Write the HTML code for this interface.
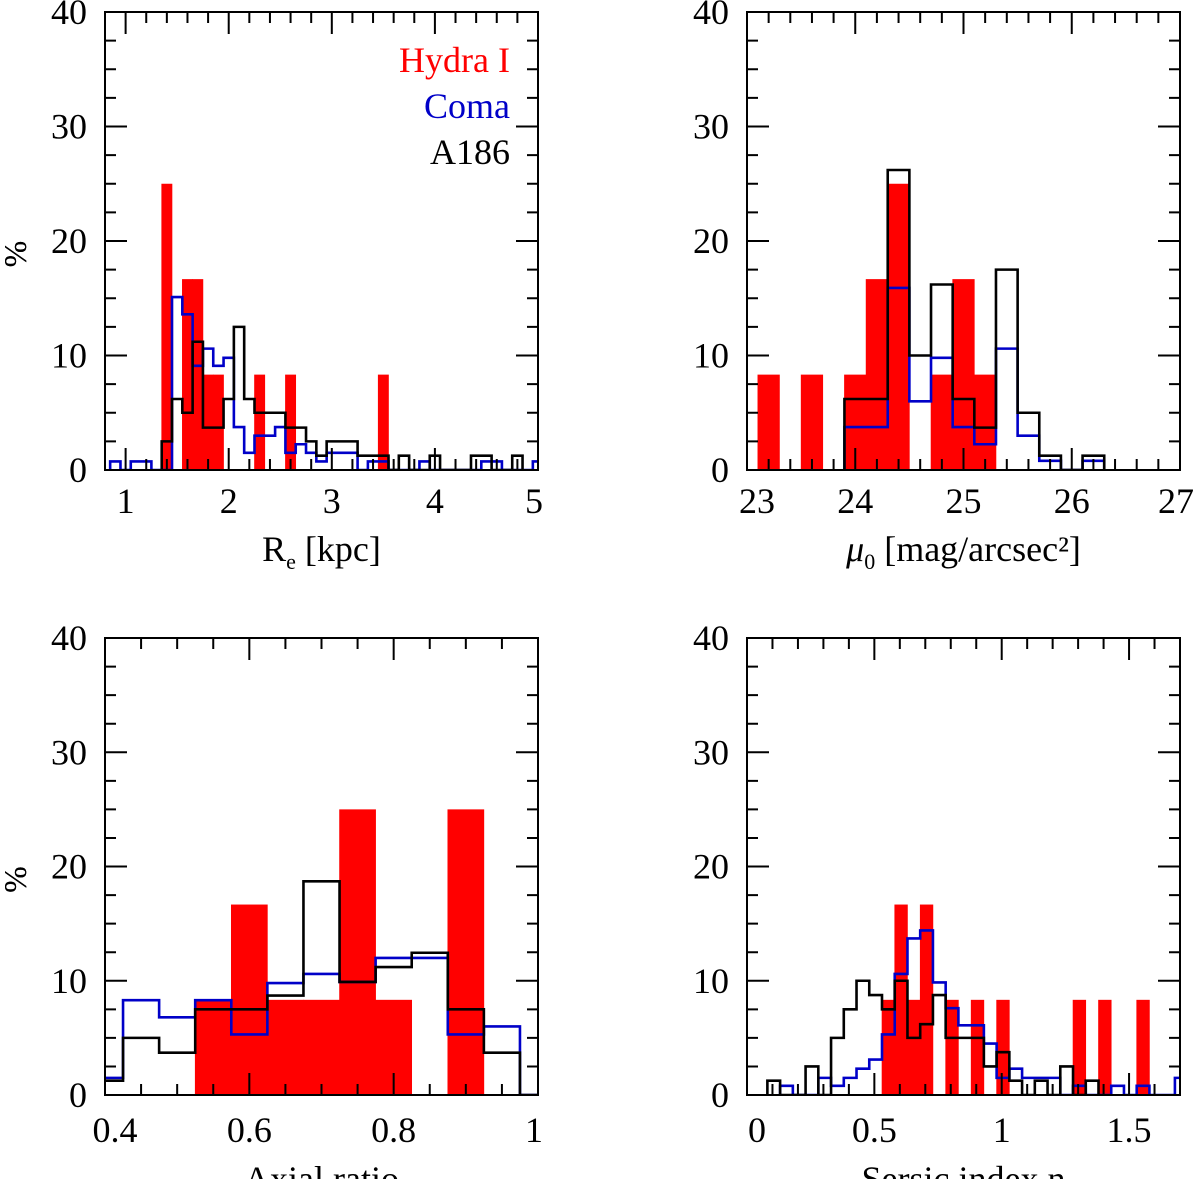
<!DOCTYPE html>
<html><head><meta charset="utf-8">
<style>
html,body{margin:0;padding:0;background:#fff;}
svg{display:block;}
text{font-family:"Liberation Serif","DejaVu Serif",serif;fill:#000;}
</style></head>
<body>
<svg id="fig" width="1200" height="1179" viewBox="0 0 1200 1179" xmlns="http://www.w3.org/2000/svg"></svg>
<script>
// ---- Panel 1: R_e [kpc] ----
const reRedStart = 1.35, reRedW = 0.1;
const reRed = [25,0,16.67,16.67,8.33,8.33,0,0,0,8.33,0,0,8.33,0,0,0,0,0,0,0,0,8.33];
const reBlueStart = 0.85, reBlueW = 0.1;
const reBlue = [0.75,0,0.75,0.75,0,0,15.1,13.6,9.1,10.6,9.1,9.8,3.75,1.5,3.0,3.0,3.75,1.5,2.25,1.5,0.75,1.5,1.5,1.5,0,0.75,0.75,0,0,0,0.75,0,0,0,0,0,0.75,0.75,0,0,0,0.75];
const reBlackStart = 1.35, reBlackW = 0.1;
const reBlack = [2.5,6.2,5.0,11.2,3.7,3.7,6.2,12.5,6.2,5,5,5,3.7,3.7,2.5,1.25,2.5,2.5,2.5,1.25,1.25,1.25,0,1.25,0,0,1.25,0,0,0,1.25,1.25,0,0,1.25];
const reXTicks = ["1","2","3","4","5"];

// ---- Panel 2: mu0 ----
const muRedStart = 23.1, muRedW = 0.2;
const muRed = [8.33,0,8.33,0,8.33,16.67,25,0,8.33,16.67,8.33];
const muBlackStart = 23.9, muBlackW = 0.2;
const muBlack = [6.2,6.2,26.2,10.0,16.2,6.2,3.7,17.5,5.0,1.25,0,1.25];
const muBlue = [3.75,3.75,15.9,6.0,9.8,3.75,2.25,10.6,3.0,0.8,0,0.8];
const muXTicks = ["23","24","25","26","27"];

// ---- Panel 3: Axial ratio ----
const arRedStart = 0.525, arRedW = 0.05;
const arRed = [8.33,16.67,8.33,8.33,25,8.33,0,25];
const arLineStart = 0.375, arLineW = 0.05;
const arBlack = [1.25,5,3.7,7.5,7.5,8.7,18.7,9.9,11.2,12.45,7.5,3.7,0];
const arBlue = [1.5,8.3,6.8,8.3,5.3,9.8,10.6,9.9,12.0,12.0,5.3,6.0,0];
const arXTicks = ["0.4","0.6","0.8","1"];

// ---- Panel 4: Sersic index ----
const snRedStart = 0.53, snRedW = 0.05;
const snRed = [8.33,16.67,8.33,16.67,0,8.33,0,8.33,0,8.33,0,0,0,0,0,8.33,0,8.33,0,0,8.33];
const snBlackStart = 0.08, snBlackW = 0.05;
const snBlack = [1.25,0,0,2.5,0,5,7.5,10,8.75,7.5,10,5,6.2,8.75,5,5,5,2.5,3.75,1.25,0,1.25,0,2.5,0,1.25];
const snBlueStart = 0.13, snBlueW = 0.05;
const snBlue = [0.8,0,0,1.5,0.8,1.5,2.3,3.1,5.3,10.6,13.7,14.4,9.85,7.6,6.1,6.1,4.5,1.5,2.3,1.5,1.5,1.5,0,0.8,0,0,0.8,0,0.8,0,0,1.5];
const snXTicks = ["0","0.5","1","1.5"];

const yTicks = ["0","10","20","30","40"];

const NS = "http://www.w3.org/2000/svg";
const svg = document.getElementById("fig");
function mk(tag, attrs, parent){
  const e = document.createElementNS(NS, tag);
  for (const k in attrs) e.setAttribute(k, attrs[k]);
  (parent||svg).appendChild(e);
  return e;
}

function panel(cfg){
  const g = mk("g", {});
  
  
  const X = v => cfg.x0 + (v - cfg.xmin) / (cfg.xmax - cfg.xmin) * (cfg.x1 - cfg.x0);
  const Y = v => cfg.y1 - v / 40 * (cfg.y1 - cfg.y0);
  const cid = "clip-" + cfg.name;
  const cp = mk("clipPath", {id: cid}, g);
  mk("rect", {x: cfg.x0, y: cfg.y0, width: cfg.x1 - cfg.x0, height: cfg.y1 - cfg.y0}, cp);
  const plot = mk("g", {"clip-path": "url(#" + cid + ")"}, g);
  cfg.red.vals.forEach((v, i) => {
    if (v <= 0) return;
    const a = cfg.red.start + i * cfg.red.w, b = a + cfg.red.w;
    const r = mk("rect", {x: X(a) - 0.3, y: Y(v), width: X(b) - X(a) + 0.6, height: Y(0) - Y(v), fill: "#ff0000"}, plot);
    
    
  });
  function stairs(s, color, nm){
    let d = "M" + X(s.start) + "," + Y(0);
    s.vals.forEach((v, i) => {
      const a = s.start + i * s.w, b = a + s.w;
      d += " L" + X(a) + "," + Y(v) + " L" + X(b) + "," + Y(v);
    });
    d += " L" + X(s.start + s.vals.length * s.w) + "," + Y(0);
    const p = mk("path", {d: d, fill: "none", stroke: color, "stroke-width": 2.6, "stroke-linejoin": "miter"}, plot);
    
    
  }
  stairs(cfg.blue, "#0000c8", "coma-histogram");
  stairs(cfg.black, "#000000", "a186-histogram");
  const fr = mk("rect", {x: cfg.x0, y: cfg.y0, width: cfg.x1 - cfg.x0, height: cfg.y1 - cfg.y0, fill: "none", stroke: "#000", "stroke-width": 2}, g);
  
  
  let td = "";
  for (let v = 0; v <= 40.001; v += 2.5) {
    const L = (Math.abs(v % 10) < 0.01) ? 22 : 11;
    td += "M" + cfg.x0 + "," + Y(v) + " h" + L + " M" + cfg.x1 + "," + Y(v) + " h" + (-L) + " ";
  }
  const nMin = Math.round((cfg.xmax - cfg.xmin) / cfg.minor);
  for (let k = 0; k <= nMin; k++) {
    const v = cfg.xmin + k * cfg.minor;
    const isMaj = Math.abs((v - cfg.majOrigin) / cfg.major - Math.round((v - cfg.majOrigin) / cfg.major)) < 0.01;
    const L = isMaj ? 22 : 11;
    td += "M" + X(v) + "," + cfg.y1 + " v" + (-L) + " M" + X(v) + "," + cfg.y0 + " v" + L + " ";
  }
  mk("path", {d: td, stroke: "#000", "stroke-width": 2, fill: "none"}, g);
  yTicks.forEach((t, i) => {
    const e = mk("text", {x: cfg.x0 - 18, y: Y(i * 10) + 12, "font-size": 36, "text-anchor": "end"}, g);
    e.textContent = t;
    
    
  });
  cfg.xTicks.forEach((t) => {
    let px = X(parseFloat(t));
    px = Math.max(cfg.x0 + 10, Math.min(cfg.x1 - 4, px));
    const e = mk("text", {x: px, y: cfg.y1 + cfg.tickDy, "font-size": 36, "text-anchor": "middle"}, g);
    e.textContent = t;
    
    
  });
  const yt = mk("text", {x: 0, y: 0, "font-size": 32, "text-anchor": "middle", transform: "translate(26," + ((cfg.y0 + cfg.y1) / 2 + 13) + ") rotate(-90)"}, g);
  yt.textContent = "%";
  
  
  const xt = mk("text", {x: (cfg.x0 + cfg.x1) / 2, y: cfg.titleY, "font-size": 36, "text-anchor": "middle"}, g);
  xt.innerHTML = cfg.title;
  
  
  return g;
}

panel({name: "re-panel", x0: 105, x1: 538, y0: 12, y1: 470, xmin: 0.8, xmax: 5, minor: 0.2, major: 1, majOrigin: 0, titleY: 561, tickDy: 43,
  red: {start: reRedStart, w: reRedW, vals: reRed}, blue: {start: reBlueStart, w: reBlueW, vals: reBlue},
  black: {start: reBlackStart, w: reBlackW, vals: reBlack}, xTicks: reXTicks,
  title: 'R<tspan font-size="22" dy="8">e</tspan><tspan dy="-8"> [kpc]</tspan>'});
panel({name: "mu0-panel", x0: 747, x1: 1180, y0: 12, y1: 470, xmin: 23, xmax: 27, minor: 0.2, major: 1, majOrigin: 0, titleY: 561, tickDy: 43,
  red: {start: muRedStart, w: muRedW, vals: muRed}, blue: {start: muBlackStart, w: muBlackW, vals: muBlue},
  black: {start: muBlackStart, w: muBlackW, vals: muBlack}, xTicks: muXTicks,
  title: '<tspan font-style="italic">μ</tspan><tspan font-size="22" dy="8">0</tspan><tspan dy="-8"> [mag/arcsec²]</tspan>'});
panel({name: "axial-ratio-panel", x0: 105, x1: 538, y0: 638, y1: 1095, xmin: 0.4, xmax: 1.0, minor: 0.05, major: 0.2, majOrigin: 0, titleY: 1191, tickDy: 47,
  red: {start: arRedStart, w: arRedW, vals: arRed}, blue: {start: arLineStart, w: arLineW, vals: arBlue},
  black: {start: arLineStart, w: arLineW, vals: arBlack}, xTicks: arXTicks, title: 'Axial ratio'});
panel({name: "sersic-panel", x0: 747, x1: 1180, y0: 638, y1: 1095, xmin: 0, xmax: 1.7, minor: 0.1, major: 0.5, majOrigin: 0, titleY: 1191, tickDy: 47,
  red: {start: snRedStart, w: snRedW, vals: snRed}, blue: {start: snBlueStart, w: snBlueW, vals: snBlue},
  black: {start: snBlackStart, w: snBlackW, vals: snBlack}, xTicks: snXTicks, title: 'Sersic index n'});

const legendNames = ["Hydra I", "Coma", "A186"];
const legendColors = ["#ff0000", "#0000c8", "#000000"];
legendNames.forEach((n, i) => {
  const e = mk("text", {x: 510, y: 72 + i * 46, "font-size": 36, "text-anchor": "end", fill: legendColors[i], style: "fill:" + legendColors[i]});
  e.textContent = n;
  
  
});
</script>
</body></html>
